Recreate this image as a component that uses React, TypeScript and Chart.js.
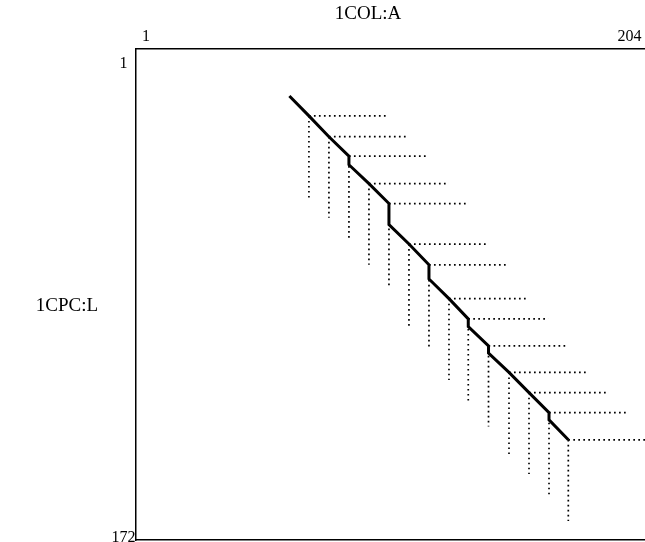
import React, { useEffect, useRef } from 'react';
import { Chart, registerables } from 'chart.js';

Chart.register(...registerables);

// ---- text ----
const X_TITLE = '1COL:A';
const Y_TITLE = '1CPC:L';

// ---- axes ----
const X_TICKS = [1, 204];
const Y_TICKS = [1, 172];
const X_MIN = -3.2;
const X_MAX = 210.5;
const Y_MIN = -4.23;
const Y_MAX = 172.83;

// ---- alignment path (vertices, incl. vertical steps) ----
const PATH_X = [61.2, 69.4, 77.8, 86.2, 86.2, 94.6, 103.0, 103.0, 111.4, 119.8, 119.8, 128.2, 136.3, 136.3, 144.8, 144.8, 153.4, 161.8, 170.2, 170.2, 178.3];
const PATH_Y = [12.7, 19.9, 27.4, 34.4, 37.5, 44.3, 51.5, 59.1, 66.1, 73.6, 78.7, 85.8, 93.1, 95.9, 102.8, 105.4, 112.4, 119.7, 126.9, 129.5, 136.7];

// ---- fragment markers (dotted guides) ----
const MARK_X = [69.4, 77.8, 86.2, 94.6, 103.0, 111.4, 119.8, 128.2, 136.3, 144.8, 153.4, 161.8, 170.2, 178.3];
const MARK_Y = [19.9, 27.4, 34.4, 44.3, 51.5, 66.1, 73.6, 85.8, 93.1, 102.8, 112.4, 119.7, 126.9, 136.7];
const H_END_X = [102.7, 111.1, 119.4, 128.0, 136.3, 144.7, 153.0, 161.5, 169.9, 178.3, 186.7, 195.1, 203.5, 211.8];
const V_END_Y = [49.4, 56.6, 64.1, 73.6, 81.1, 95.8, 103.1, 115.1, 122.6, 131.9, 142.2, 149.0, 156.3, 166.0];

const FONT = '"Liberation Serif", "Times New Roman", serif';

const titlePlugin = {
  id: 'axisTitles',
  afterDraw(chart: any) {
    const ctx = chart.ctx;
    const a = chart.chartArea;
    ctx.save();
    ctx.font = `19px ${FONT}`;
    ctx.fillStyle = '#000';
    ctx.textAlign = 'center';
    ctx.textBaseline = 'middle';
    ctx.fillText(X_TITLE, a.left + 232, 14);
    ctx.fillText(Y_TITLE, 67, (a.top + a.bottom) / 2 + 11.5);
    ctx.restore();
  },
};

export default function App() {
  const ref = useRef<HTMLCanvasElement | null>(null);

  useEffect(() => {
    if (!ref.current) return;

    const pathData = PATH_X.map((x, i) => ({ x, y: PATH_Y[i] }));
    const hData: any[] = [];
    const vData: any[] = [];
    MARK_X.forEach((x, i) => {
      hData.push({ x, y: MARK_Y[i] }, { x: H_END_X[i], y: MARK_Y[i] }, { x, y: null });
      vData.push({ x, y: MARK_Y[i] }, { x, y: V_END_Y[i] }, { x, y: null });
    });

    const dotted = {
      showLine: true,
      pointRadius: 0,
      borderColor: '#000',
      borderWidth: 1.7,
      borderDash: [1.7, 3.3],
      borderCapStyle: 'butt',
      spanGaps: false,
      order: 1,
    };

    const chart = new Chart(ref.current, {
      type: 'scatter',
      data: {
        datasets: [
          {
            data: pathData,
            showLine: true,
            pointRadius: 0,
            borderColor: '#000',
            borderWidth: 3,
            order: 0,
          } as any,
          { ...dotted, data: hData } as any,
          { ...dotted, data: vData } as any,
        ],
      },
      options: {
        animation: false,
        responsive: false,
        devicePixelRatio: 1,
        events: [],
        layout: { padding: 0 },
        plugins: { legend: { display: false }, tooltip: { enabled: false } },
        scales: {
          x: {
            type: 'linear',
            position: 'top',
            min: X_MIN,
            max: X_MAX,
            afterBuildTicks: (s: any) => {
              s.ticks = X_TICKS.map((v) => ({ value: v }));
            },
            afterFit: (s: any) => {
              s.height = 49;
              s.paddingLeft = 0;
              s.paddingRight = 0;
            },
            ticks: {
              autoSkip: false,
              maxRotation: 0,
              padding: 3,
              color: '#000',
              font: { family: FONT, size: 16 },
              callback: (v: any) => String(v),
            },
            grid: { display: false, drawTicks: false },
            border: { display: true, color: '#000', width: 1.5 },
          },
          xb: {
            type: 'linear',
            position: 'bottom',
            min: 0,
            max: 1,
            afterFit: (s: any) => {
              s.height = 2;
              s.paddingLeft = 0;
              s.paddingRight = 0;
            },
            ticks: { display: false },
            grid: { display: false, drawTicks: false },
            border: { display: true, color: '#000', width: 1.5 },
          },
          y: {
            type: 'linear',
            position: 'left',
            reverse: true,
            min: Y_MIN,
            max: Y_MAX,
            afterBuildTicks: (s: any) => {
              s.ticks = Y_TICKS.map((v) => ({ value: v }));
            },
            afterFit: (s: any) => {
              s.width = 136;
              s.paddingTop = 0;
              s.paddingBottom = 0;
            },
            ticks: {
              autoSkip: false,
              crossAlign: 'center',
              padding: 0.5,
              color: '#000',
              font: { family: FONT, size: 16 },
              callback: (v: any) => String(v),
            },
            grid: { display: false, drawTicks: false },
            border: { display: true, color: '#000', width: 1.5 },
          },
        },
      } as any,
      plugins: [titlePlugin],
    });

    return () => chart.destroy();
  }, []);

  return (
    <div
      style={{
        position: 'fixed',
        left: 0,
        top: 0,
        width: 645,
        height: 542,
        overflow: 'hidden',
        background: '#fff',
      }}
    >
      <canvas ref={ref} width={645} height={542} style={{ display: 'block', width: 645, height: 542 }} />
    </div>
  );
}
